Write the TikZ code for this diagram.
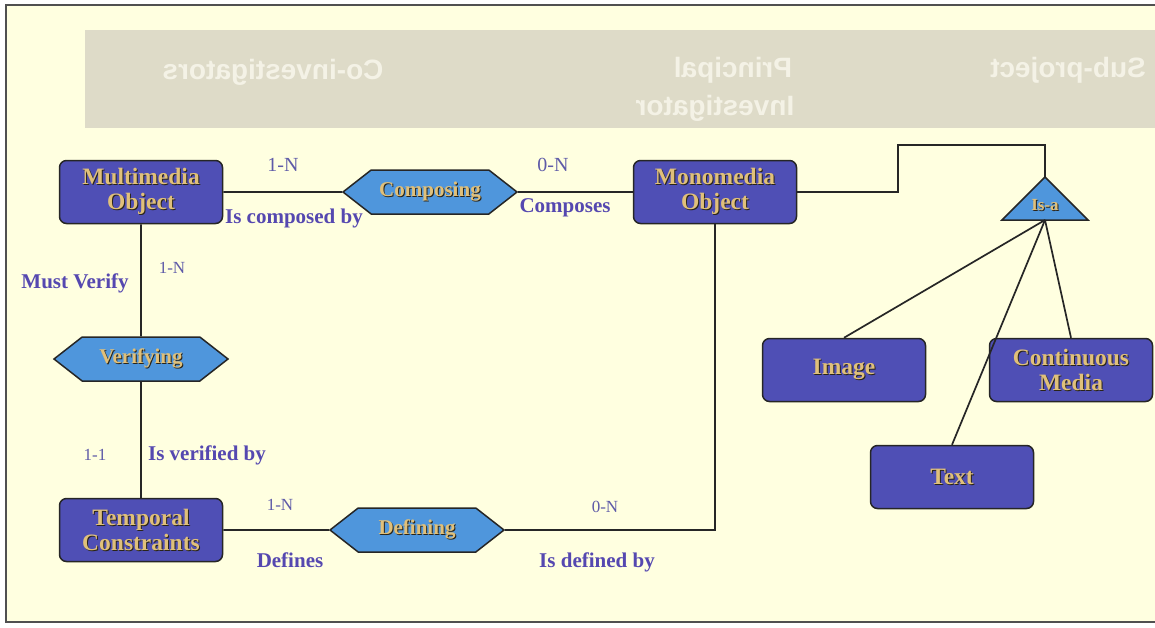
\documentclass[tikz,border=0pt]{standalone}
\usepackage{fontspec}
\usepackage{graphicx}
\setmainfont{Liberation Serif}
\newfontfamily\bandfont{Liberation Sans}
\usetikzlibrary{shapes.symbols}
\definecolor{bg}{HTML}{FFFFE0}
\definecolor{band}{HTML}{DEDBC8}
\definecolor{bandtxt}{HTML}{F4F2E6}
\definecolor{entblue}{HTML}{4F4FB5}
\definecolor{relblue}{HTML}{4F96DC}
\definecolor{gold}{HTML}{E0C07A}
\definecolor{shadowc}{HTML}{2A2418}
\definecolor{lblpurple}{HTML}{5548B0}
\definecolor{cardpurple}{HTML}{5E5AA8}
\definecolor{framec}{HTML}{505050}
\newcommand\sh[1]{\leavevmode\rlap{\hspace{1pt}\raisebox{-1pt}{\textcolor{shadowc}{#1}}}#1}
\begin{document}
\begin{tikzpicture}[x=1pt,y=-1pt,
  entity/.style={draw=black!85, line width=1.5pt, fill=entblue, rounded corners=7pt,
    minimum width=163pt, minimum height=63pt, inner sep=0pt, align=center, text=gold,
    font=\fontsize{23.5}{25}\selectfont\bfseries},
  rel/.style={shape=signal, signal to=west and east, signal pointer angle=76,
    draw=black!85, line width=1.5pt, fill=relblue, minimum width=174pt,
    minimum height=44pt, inner sep=0pt, text=gold, font=\fontsize{21}{22}\selectfont\bfseries},
  relshape/.style={draw=black!85, line width=1.5pt, fill=relblue, line join=miter},
  conn/.style={draw=black!85, line width=1.7pt},
  card/.style={text=cardpurple, inner sep=1pt, font=\fontsize{20}{21}\selectfont},
  cardsm/.style={text=cardpurple, inner sep=1pt, font=\fontsize{17}{18}\selectfont},
  lbl/.style={text=lblpurple, inner sep=1pt, font=\fontsize{21}{22}\selectfont\bfseries},
  bandlbl/.style={text=bandtxt, inner sep=0pt, font=\bandfont\fontsize{28}{30}\selectfont\bfseries}
]
\useasboundingbox (0,0) rectangle (1155,627);
\fill[white] (0,0) rectangle (1155,627);
\fill[bg] (6,5) rectangle (1160,622);
% show-through band
\fill[band] (85,30) rectangle (1160,128);
\node[bandlbl] (b1) at (273,72) {\reflectbox{Co-investigators}};
\node[bandlbl] (b2) at (733,70) {\reflectbox{Principal}};
\node[bandlbl] (b3) at (715,108) {\reflectbox{Investigator}};
\node[bandlbl] (b4) at (1068,70) {\reflectbox{Sub-project}};
\draw[framec, line width=2.5pt] (6,5) rectangle (1170,622);

% entities
\node[entity] (multi) at (141,192) {\sh{Multimedia}\\\sh{Object}};
\node[entity] (mono) at (715,192) {\sh{Monomedia}\\\sh{Object}};
\node[entity] (temp) at (141,530) {\sh{Temporal}\\\sh{Constraints}};
\node[entity] (image) at (844,370) {\sh{Image}};
\node[entity] (cont) at (1071,370) {\sh{Continuous}\\\sh{Media}};
\node[entity] (text) at (952,477) {\sh{Text}};
% relationships
\node[rel] (comp) at (430,192) {\sh{Composing}};
\node[rel] (ver) at (141,359) {\sh{Verifying}};
\node[rel] (def) at (417,530) {\sh{Defining}};
% is-a triangle
\coordinate (isaTop) at (1045,177);
\coordinate (isaBot) at (1045,220);
\draw[relshape] (1002,220) -- (isaTop) -- (1088,220) -- cycle;
\node[text=gold, inner sep=0pt, font=\fontsize{17}{18}\selectfont\bfseries] (isa) at (1045,206) {\sh{Is-a}};

% connectors
\draw[conn] (multi) -- (comp);
\draw[conn] (comp) -- (mono);
\draw[conn] (multi) -- (ver);
\draw[conn] (ver) -- (temp);
\draw[conn] (temp) -- (def);
\draw[conn] (def.east) -| (mono.south);
\coordinate (bend) at (898,145);
\draw[conn] (mono.east) -| (bend) -| (isaTop);
\draw[conn] (isaBot) -- (image.north);
\draw[conn] (isaBot) -- (cont.north);
\draw[conn] (isaBot) -- (text.north);

% labels
\node[card] (c1) at (283,165) {1-N};
\node[lbl] (l1) at (294,218) {Is composed by};
\node[card] (c2) at (553,165) {0-N};
\node[lbl] (l2) at (565,208) {Composes};
\node[cardsm] (c3) at (172,268) {1-N};
\node[lbl] (l3) at (75,283) {Must Verify};
\node[cardsm] (c4) at (95,455) {1-1};
\node[lbl] (l4) at (207,455) {Is verified by};
\node[cardsm] (c5) at (280,505) {1-N};
\node[lbl] (l5) at (290,560) {Defines};
\node[cardsm] (c6) at (605,507) {0-N};
\node[lbl] (l6) at (597,562) {Is defined by};
\end{tikzpicture}
\end{document}
